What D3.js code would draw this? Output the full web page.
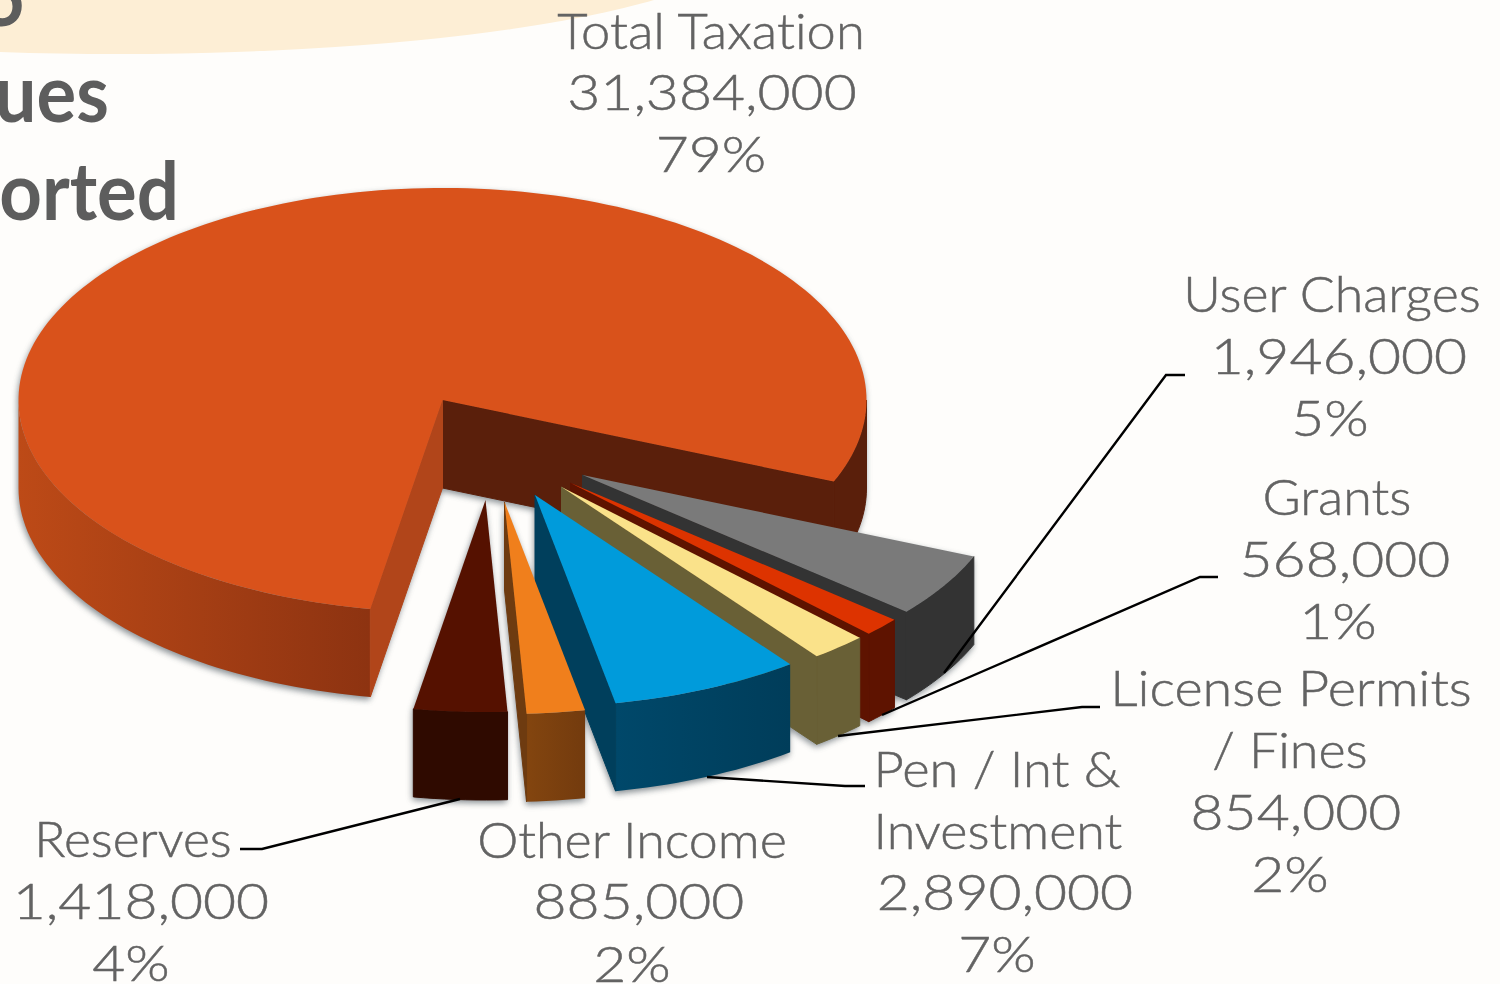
<!DOCTYPE html>
<html>
<head>
<meta charset="utf-8">
<script src="https://cdn.jsdelivr.net/npm/d3@7"></script>
<style>
html,body{margin:0;padding:0;background:#fefdfb;overflow:hidden}
svg{display:block}
text{font-family:Lato,"Open Sans",sans-serif;font-variant-ligatures:none}
</style>
</head>
<body>
<svg id="c" width="1500" height="984"></svg>
<script>
// ---- data ----
const categories = ["Total Taxation","User Charges","Grants","License Permits / Fines","Pen / Int & Investment","Other Income","Reserves"];
const values = [31384000,1946000,568000,854000,2890000,885000,1418000];
const nameLines = [["Total Taxation"],["User Charges"],["Grants"],["License Permits","/ Fines"],["Pen / Int &","Investment"],["Other Income"],["Reserves"]];

// ---- layout & style (not data) ----
const W = 1500, H = 984;
const startDeg = 189.8;            // d3.pie angle of first slice
const rx = 424, ry = 212, depth = 88;
const apex = [[442.5,400],[582.5,475],[570.5,483],[561.5,487],[535,495],[504.5,502],[485.5,500]];
const tops = ["#d9521b","#7a7a7a","#dd3300","#fae28a","#009bdb","#f07f1c","#551100"];
const walls = [["#bd4a17","#8d3311"],["#333333","#333333"],["#5e1300","#5e1300"],["#696036","#696036"],["#00486a","#003d5a"],["#83450f","#733b0e"],["#2f0a00","#2f0a00"]];
const endFaces = ["#5a1f0b","#333333","#5e1300","#696036","#003f5c","#6e3b10","#2f0a00"];
const startFaces = ["#b1451a","#333333","#5e1300","#696036","#003f5c","#6e3b10","#2f0a00"];
const rightWallColor = "#5a1f0b";
const nameStretch = [[1.05],[1.035],[1.04],[1.08,1.04],[1.05,1.04],[1.04],[1.03]];
const numberStretch = 1.14;
const labelPos = [
  [[711,48.5]],
  [[1332,311.5]],
  [[1337,514.5]],
  [[1291,705.5],[1290,767.5]],
  [[997,786.5],[998,848.5]],
  [[632,857.5]],
  [[133,856.5]]
];
const valuePos = [[712,109.5],[1339,373.5],[1345,576.5],[1296,829.5],[1005,909.5],[639,918.5],[141,918.5]];
const pctPos   = [[711,171.5],[1330,435.5],[1338,638.5],[1290,891.5],[997,971.5],[632,981.5],[131,980.5]];
const leaders = [
  [[1185,375],[1166,375],[944,673]],
  [[1218,577],[1200,577],[882,715]],
  [[1100,707],[1082,707],[838,736]],
  [[865,786],[845,786],[707,777]],
  [[240,849],[262,849],[460,799]]
];

// ---- drawing ----
const svg = d3.select("#c");
const total = d3.sum(values);
const fmtN = d3.format(","), fmtP = d3.format(".0%");
const toRad = d => d*Math.PI/180;
const x = d3.scaleLinear([-1,1],[-rx,rx]);
const y = d3.scaleLinear([-1,1],[-ry,ry]);
const pie = d3.pie().sort(null).startAngle(toRad(startDeg)).endAngle(toRad(startDeg)+2*Math.PI);
const arcs = pie(values);
const line = d3.line();

svg.append("rect").attr("width",W).attr("height",H).attr("fill","#fefdfb");
const defs = svg.append("defs");
const blur = defs.append("filter").attr("id","shadow").attr("x","-10%").attr("y","-10%").attr("width","120%").attr("height","120%");
blur.append("feGaussianBlur").attr("stdDeviation",3);
walls.forEach((w,i)=>{
  const g = defs.append("linearGradient").attr("id","wall"+i).attr("x1",0).attr("x2",1).attr("y1",0).attr("y2",0);
  g.append("stop").attr("offset",0).attr("stop-color",w[0]);
  g.append("stop").attr("offset",1).attr("stop-color",w[1]);
});
const wallFill = i => walls[i][0]===walls[i][1] ? walls[i][0] : `url(#wall${i})`;

// background page remnants
svg.append("ellipse").attr("cx",120).attr("cy",-60).attr("rx",628).attr("ry",114).attr("fill","#fdeed5");
const head = [["5",26,26],["ues",109,122],["orted",179,220]];
head.forEach(h=>{
  svg.append("text").attr("transform",`translate(${h[1]},${h[2]}) scale(.93,1)`)
    .attr("text-anchor","end").attr("font-size",80).attr("font-weight",700).attr("fill","#5d5d5d").text(h[0]);
});

// east-clockwise angle for a d3.pie angle
const east = a => a - Math.PI/2;
const pt = (i,a,dz=0) => [apex[i][0]+x(Math.cos(a)), apex[i][1]+y(Math.sin(a))+dz];
const arcPts = (i,a0,a1,dz=0) => {
  const n = Math.max(2,Math.ceil((a1-a0)/toRad(1.5)));
  return d3.range(n+1).map(k=>pt(i,a0+(a1-a0)*k/n,dz));
};
const topPath = (i,a0,a1) => line([apex[i],...arcPts(i,a0,a1)])+"Z";
const wallPath = (i,a0,a1) => line([...arcPts(i,a0,a1),...arcPts(i,a0,a1,depth).reverse()])+"Z";
const facePath = (i,a) => line([apex[i],pt(i,a),pt(i,a,depth),[apex[i][0],apex[i][1]+depth]])+"Z";

const shadowLayer = svg.append("g").attr("filter","url(#shadow)").attr("transform","translate(-1,3)").attr("fill","#566068").attr("opacity",.7);
const sliceLayer = svg.append("g");

arcs.forEach((d,i)=>{
  const a0 = east(d.startAngle), a1 = east(d.endAngle);
  const g = sliceLayer.append("g");
  const shapes = [];
  // outer wall where the rim faces the viewer
  [[0,Math.PI],[2*Math.PI,3*Math.PI]].forEach(([lo,hi],k)=>{
    const s = Math.max(a0,lo), e = Math.min(a1,hi);
    if (e > s) {
      const right = i===0 && k===1;
      const fill = right ? rightWallColor : wallFill(i);
      shapes.push([wallPath(i,s,e), fill, fill.startsWith("url") ? "none" : fill]);
    }
  });
  // cut faces that look toward the viewer
  if (Math.cos(a1) > 0) shapes.push([facePath(i,a1),endFaces[i],endFaces[i]]);
  if (Math.cos(a0) < 0) shapes.push([facePath(i,a0),startFaces[i],startFaces[i]]);
  shapes.push([topPath(i,a0,a1),tops[i],"none"]);
  shapes.forEach(s=>{
    g.append("path").attr("d",s[0]).attr("fill",s[1]).attr("stroke",s[2]).attr("stroke-width",1);
    shadowLayer.append("path").attr("d",s[0]);
  });
});

// leader lines
svg.append("g").selectAll("path").data(leaders).join("path")
  .attr("d",d=>line(d)).attr("fill","none").attr("stroke","#000").attr("stroke-width",2.4);

// labels
const lab = svg.append("g").attr("font-size",50).attr("font-weight",300).attr("fill","#636363")
  .attr("stroke","#636363").attr("stroke-width",.5).attr("text-anchor","middle");
const put = (pos,t,stretch) => {
  const el = lab.append("text").attr("x",pos[0]).attr("y",pos[1]).text(t);
  el.attr("textLength",el.node().getComputedTextLength()*stretch).attr("lengthAdjust","spacingAndGlyphs");
};
categories.forEach((c,i)=>{
  nameLines[i].forEach((t,k)=>put(labelPos[i][k],t,nameStretch[i][k]));
  put(valuePos[i],fmtN(values[i]),numberStretch);
  put(pctPos[i],fmtP(values[i]/total),numberStretch);
});
</script>
</body>
</html>
